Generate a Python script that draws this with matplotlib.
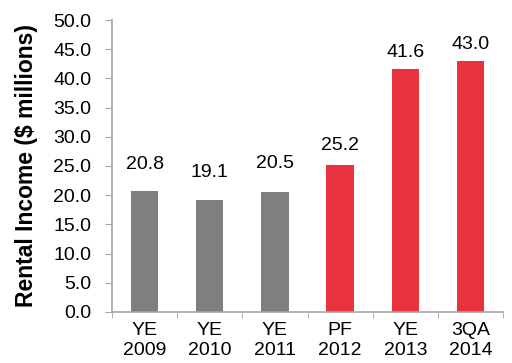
import numpy as np
import matplotlib
matplotlib.use('Agg')
import matplotlib.pyplot as plt

plt.rcParams['font.family'] = ['Liberation Sans', 'DejaVu Sans']

# Данные
categories = ['YE\n2009', 'YE\n2010', 'YE\n2011', 'PF\n2012', 'YE\n2013', '3QA\n2014']
income = [20.8, 19.1, 20.5, 25.2, 41.6, 43.0]
labels = ['20.8', '19.1', '20.5', '25.2', '41.6', '43.0']
is_red = [False, False, False, True, True, True]

gray = '#7F7F7F'
red = '#E8323E'
axis_col = '#A6A6A6'

fig = plt.figure(figsize=(5.12, 3.63), dpi=100)
ax = fig.add_axes([0.2188, 0.1405, 0.7637, 0.8044])

x = np.arange(len(categories))
colors = [red if r else gray for r in is_red]
ax.bar(x, income, width=0.42, color=colors, zorder=2)

# подписи над столбцами (отступ до центра текста, как в оригинале)
offsets = [19, 20, 21, 14, 12, 12]
for xi, v, lab, off in zip(x, income, labels, offsets):
    ax.annotate(lab, (xi, v), xytext=(0, off), textcoords='offset points',
                ha='center', va='center', fontsize=14)

ax.set_xlim(-0.5, len(categories) - 0.5)
ax.set_ylim(0, 50)
ax.set_yticks(np.arange(0, 50.1, 5))
ax.set_yticklabels(['%.1f' % t for t in np.arange(0, 50.1, 5)], fontsize=14)
ax.set_xticks(x)
ax.set_xticklabels(categories, fontsize=14, linespacing=1.25)
ax.tick_params(axis='x', which='major', length=0, pad=7)
ax.set_xticks(np.arange(-0.5, len(categories)), minor=True)
ax.tick_params(axis='x', which='minor', length=4, color=axis_col, direction='out')
ax.tick_params(axis='y', length=5, color=axis_col, direction='out', pad=10)

for s in ['top', 'right']:
    ax.spines[s].set_visible(False)
for s in ['left', 'bottom']:
    ax.spines[s].set_color(axis_col)
    ax.spines[s].set_linewidth(1.2)

ax.set_ylabel('Rental Income ($ millions)', fontsize=16.5, fontweight='bold', labelpad=11)

fig.savefig('out.png', dpi=100)
